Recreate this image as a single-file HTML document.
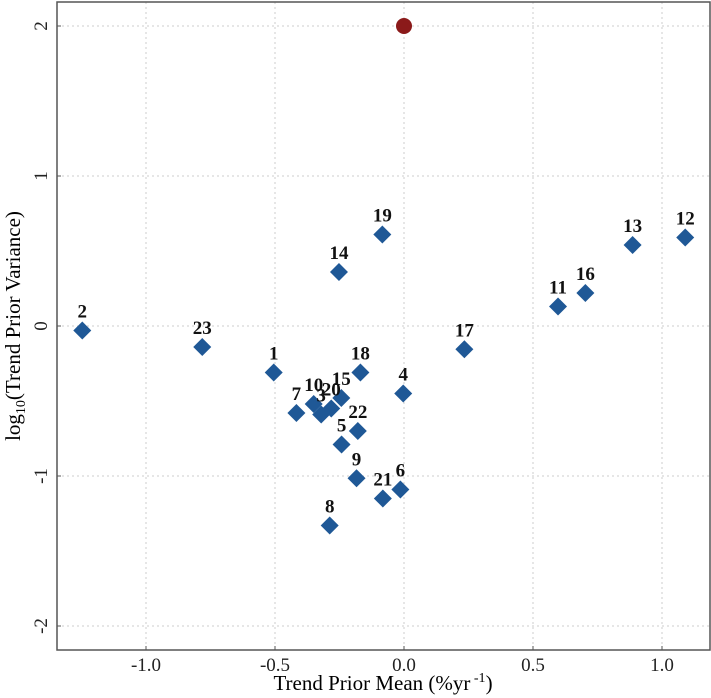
<!DOCTYPE html>
<html><head><meta charset="utf-8"><style>
html,body{margin:0;padding:0;background:#fff;}
svg{display:block;font-family:"Liberation Serif",serif;}
</style></head><body>
<svg id="chart" width="711" height="698">
<g id="grid"></g>
<rect x="57" y="2" width="653" height="648" fill="none" stroke="#555" stroke-width="1.5"/>
<g id="ticks"></g>
<g id="marks"></g>
<text x="383" y="690" font-size="21" text-anchor="middle">Trend Prior Mean (%yr<tspan dy="-8" font-size="14"> -1</tspan><tspan dy="8">)</tspan></text>
<text transform="translate(20,326) rotate(-90)" font-size="21" text-anchor="middle">log<tspan dy="5" font-size="14">10</tspan><tspan dy="-5">(Trend Prior Variance)</tspan></text>
</svg>
<script>
const labels=["1","2","3","4","5","6","7","8","9","10","11","12","13","14","15","16","17","18","19","20","21","22","23"];
const means=[-0.505,-1.247,-0.321,-0.003,-0.242,-0.014,-0.417,-0.288,-0.184,-0.35,0.597,1.09,0.886,-0.252,-0.243,0.703,0.234,-0.169,-0.084,-0.282,-0.082,-0.179,-0.782];
const logvars=[-0.31,-0.03,-0.59,-0.45,-0.79,-1.09,-0.58,-1.33,-1.015,-0.52,0.13,0.59,0.54,0.36,-0.48,0.22,-0.155,-0.31,0.61,-0.55,-1.15,-0.70,-0.14];
const refPoint=[0,2];
const xTicks=[-1.0,-0.5,0.0,0.5,1.0];
const xTickLabels=["-1.0","-0.5","0.0","0.5","1.0"];
const yTicks=[-2,-1,0,1,2];
const yTickLabels=["-2","-1","0","1","2"];
const NS="http://www.w3.org/2000/svg";
const X=v=>404+258*v, Y=v=>326-150*v;
const L=57,R=710,T=2,B=650;
function mk(tag,attrs,parent){const e=document.createElementNS(NS,tag);for(const k in attrs)e.setAttribute(k,attrs[k]);parent.appendChild(e);return e;}
const grid=document.getElementById('grid'),ticks=document.getElementById('ticks'),marks=document.getElementById('marks');
xTicks.forEach((t,i)=>{
 const g=mk('line',{x1:X(t),x2:X(t),y1:T,y2:B,stroke:'#ccc','stroke-dasharray':'2,3'},grid);
 
 
 const tk=mk('line',{x1:X(t),x2:X(t),y1:B,y2:B-4,stroke:'#555'},ticks);
 
 
 const tx=mk('text',{x:X(t),y:671,'font-size':19,'text-anchor':'middle',fill:'#222'},ticks);
 tx.textContent=xTickLabels[i];
 
 
});
yTicks.forEach((t,i)=>{
 const g=mk('line',{x1:L,x2:R,y1:Y(t),y2:Y(t),stroke:'#ccc','stroke-dasharray':'2,3'},grid);
 
 
 const tk=mk('line',{x1:L,x2:L+4,y1:Y(t),y2:Y(t),stroke:'#555'},ticks);
 
 
 const tx=mk('text',{transform:`translate(47,${Y(t)}) rotate(-90)`,'font-size':19,'text-anchor':'middle',fill:'#222'},ticks);
 tx.textContent=yTickLabels[i];
 
 
});
const rp=mk('circle',{cx:X(refPoint[0]),cy:Y(refPoint[1]),r:8,fill:'#8b1a1a'},marks);


means.forEach((m,i)=>{
 const cx=X(m),cy=Y(logvars[i]),s=9;
 const p=mk('polygon',{points:`${cx},${cy-s} ${cx+s},${cy} ${cx},${cy+s} ${cx-s},${cy}`,fill:'#1f5896'},marks);
 
 
});
means.forEach((m,i)=>{
 const t=mk('text',{x:X(m),y:Y(logvars[i])-13,'font-size':19,'font-weight':'bold','text-anchor':'middle',fill:'#111'},marks);
 t.textContent=labels[i];
 
 
});
</script>
</body></html>
